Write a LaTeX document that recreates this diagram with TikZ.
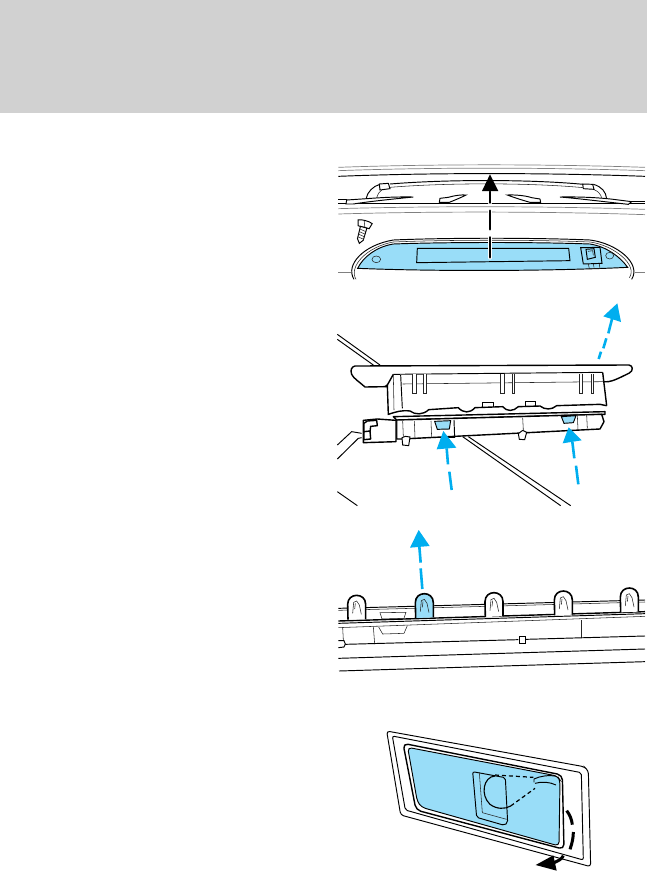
\documentclass[tikz,border=0pt]{standalone}
\usetikzlibrary{calc}
\definecolor{hdr}{HTML}{D1D1D1}
\definecolor{lens}{HTML}{99DDF8}
\definecolor{arrowblue}{HTML}{00AEEF}
\tikzset{
  thinl/.style={line width=0.55pt,black!85},
  medl/.style={line width=0.95pt,black},
  thickl/.style={line width=1.4pt,black,line join=round},
  greyl/.style={line width=0.7pt,black!50},
  blueseg/.style={line width=2.6pt,arrowblue},
  blackseg/.style={line width=2.6pt,black,line cap=round},
  halo/.style={line width=4.6pt,white,line cap=round},
  panel/.style={x=0.33333pt,y=-0.33333pt},
}
\begin{document}
\begin{tikzpicture}[x=1pt,y=-1pt]
\useasboundingbox (0,0) rectangle (647,873);
\fill[hdr] (0,0) rectangle (647,113);

% ---------- panel 1
\begin{scope}[shift={(330pt,-150pt)},panel]
\draw[greyl] (25,52) .. controls (300,42) and (650,42) .. (945,52);
\draw[greyl] (25,62) .. controls (300,52) and (650,52) .. (945,62);
\draw[medl] (25,79) .. controls (300,68) and (650,68) .. (945,79);
\draw[medl] (25,149) -- (50,149);
\draw[medl] (900,153) -- (945,153);
\draw[medl] (25,160) -- (945,160);
\draw[greyl] (25,176) .. controls (300,168) and (650,168) .. (945,178);
\draw[greyl] (25,192) .. controls (300,184) and (650,184) .. (945,194);
% rack
\draw[medl] (108,147) .. controls (112,125) and (130,108) .. (150,103);
\draw[thinl] (140,145) .. controls (142,133) and (148,125) .. (155,120);
\draw[medl] (180,102) .. controls (350,88) and (600,88) .. (760,103);
\draw[thinl] (180,112) .. controls (350,98) and (600,98) .. (760,113);
\draw[medl] (790,103) .. controls (815,110) and (828,125) .. (830,147);
\draw[thinl] (790,118) .. controls (805,123) and (812,133) .. (815,143);
\draw[medl,fill=white] (148,102) -- (175,100) -- (180,116) -- (150,120) -- cycle;
\draw[medl,fill=white] (758,102) -- (788,103) -- (792,118) -- (760,116) -- cycle;
\draw[medl,fill=white] (50,150) -- (110,146) .. controls (160,142) and (210,140) .. (250,141)
  .. controls (200,146) and (120,154) .. (70,162) -- (48,162) -- cycle;
\draw[medl,fill=white] (905,155) -- (850,148) .. controls (800,142) and (740,140) .. (690,141)
  .. controls (750,146) and (830,156) .. (895,163) -- cycle;
\draw[medl,fill=white] (330,145) -- (355,142) .. controls (375,136) and (395,134) .. (408,135)
  .. controls (395,142) and (375,150) .. (358,157) -- (328,157) -- cycle;
\draw[medl,fill=white] (630,147) -- (605,143) .. controls (585,136) and (550,134) .. (532,135)
  .. controls (550,142) and (575,150) .. (600,157) -- (632,157) -- cycle;
% screw
\begin{scope}[shift={(103,224)},rotate=-15]
\draw[medl,fill=white] (-22,-9) .. controls (-12,-14) and (12,-14) .. (22,-9) -- (17,8) -- (-17,8) -- cycle;
\draw[medl,fill=white] (-10,8) -- (-9,46) -- (0,58) -- (9,46) -- (10,8) -- cycle;
\foreach \yy in {16,24,32,40} \draw[thinl] (-10,\yy) -- (10,\yy+3);
\draw[thinl] (-3,-10) -- (3,6);
\end{scope}
% lamp
\draw[medl] (72,388) .. controls (45,345) and (100,285) .. (190,270) .. controls (350,263) and (620,263) .. (780,270) .. controls (860,280) and (935,340) .. (905,388);
\draw[thinl] (78,388) .. controls (55,350) and (110,290) .. (190,276) .. controls (350,269) and (620,269) .. (780,276) .. controls (850,285) and (925,345) .. (898,383);
\draw[greyl] (25,367) -- (62,367);
\draw[greyl] (915,367) -- (945,367);
\draw[medl,fill=lens] (83,355) .. controls (100,320) and (140,290) .. (190,282) .. controls (350,276) and (620,276) .. (780,282) .. controls (830,290) and (870,320) .. (893,352)
  .. controls (650,364) and (300,364) .. (83,355) -- cycle;
\draw[medl] (262,295) -- (716,295) -- (720,332) -- (260,338) -- cycle;
\draw[thinl,fill=lens] (139,328) circle[x radius=13,y radius=10];
\draw[thinl,fill=lens] (839,317) circle[x radius=12,y radius=10];
\draw[medl] (752,293) -- (810,292) -- (816,340) -- (760,342) -- cycle;
\draw[medl,fill=lens] (768,298) -- (792,296) -- (796,322) -- (772,328) -- cycle;
\draw[thinl] (774,304) -- (788,302) -- (790,316);
\draw[thinl] (775,342) -- (778,356) -- (810,356) -- (808,342);
\draw[thinl] (790,342) -- (792,352);
% arrow
\draw[halo] (480,125) -- (480,158);
\draw[halo] (480,182) -- (480,238);
\draw[halo] (480,262) -- (480,322);
\draw[blackseg] (480,125) -- (480,158);
\draw[blackseg] (480,182) -- (480,238);
\draw[blackseg] (480,262) -- (480,322);
\fill[black] (480,73) -- (505,123) -- (456,123) -- cycle;
\end{scope}

% ---------- panel 2
\begin{scope}[shift={(330pt,-295pt)},panel]
\draw[medl] (22,118) -- (150,210);
\draw[medl] (22,133) -- (130,210);
\draw[medl] (415,425) -- (722,632);
\draw[medl] (398,425) -- (692,632);
\draw[medl] (22,590) -- (82,632);
\draw[medl] (22,450) -- (65,410) -- (95,415);
\draw[medl] (22,492) -- (85,430) -- (95,428);
% lamp plate
\draw[thickl,fill=white] (75,213) -- (897,210) .. controls (910,212) and (910,228) .. (898,234) .. controls (870,248) and (850,258) .. (835,260) -- (165,275) -- (105,276) .. controls (90,262) and (70,250) .. (65,238) .. controls (60,225) and (65,215) .. (75,213) -- cycle;
% housing
\fill[white] (190,238) -- (818,232) -- (830,332) -- (824,350) -- (175,360) -- (172,270) -- cycle;
\draw[thickl] (165,275) -- (172,270) -- (175,360);
\draw[thickl] (190,238) -- (172,270);
\draw[medl] (190,238) -- (818,232);
\draw[thickl] (818,232) -- (830,332);
\draw[thinl] (190,240) -- (192,345);
\draw[medl] (212,240) -- (217,340);
\draw[thinl] (218,267) -- (820,260);
\foreach \a/\b in {248/258,280/290,511/522,546/554,749/758,783/791}{
  \draw[thinl,fill=white] (\a,238) -- (\a,296) -- (\b,296) -- (\b,238);
}
% tabs on top of the wave
\draw[medl,fill=white] (457,336) -- (457,322) -- (490,322) -- (490,336);
\draw[medl,fill=white] (585,336) -- (585,320) -- (617,320) -- (617,334);
% wavy edge
\draw[thickl] (175,358) .. controls (200,350) and (215,345) .. (240,348) .. controls (255,360) and (280,360) .. (296,344) -- (385,338) .. controls (400,355) and (420,355) .. (435,338) -- (518,335) .. controls (530,350) and (550,350) .. (565,335) -- (630,333) .. controls (645,345) and (665,345) .. (680,332) -- (810,328) -- (830,332);
\draw[thickl,fill=white] (190,365) -- (825,350) -- (825,358) -- (200,375) -- cycle;
% lower block
\draw[thickl,fill=white] (200,375) -- (815,358) -- (822,380) -- (810,402) -- (375,424) -- (215,432) -- (200,432) -- cycle;
\draw[thinl] (218,378) -- (220,425);
\draw[thinl] (253,378) -- (255,428);
\draw[thinl] (303,378) -- (305,428);
\draw[medl] (372,375) -- (374,428);
\draw[medl] (305,428) -- (374,428);
\draw[thinl] (578,368) -- (580,405);
\draw[thinl] (742,360) -- (744,405);
\draw[thinl] (770,360) -- (772,400);
\draw[medl,fill=lens] (314,379) -- (362,377) -- (358,402) -- (322,403) -- cycle;
\draw[medl,fill=lens] (694,365) -- (738,362) -- (730,383) -- (702,385) -- cycle;
\draw[medl,fill=white] (216,428) -- (218,450) -- (236,452) -- (240,426) -- (226,424) -- cycle;
\draw[medl,fill=white] (565,416) -- (568,433) -- (584,434) -- (590,412) -- (578,406) -- cycle;
% connector
\draw[thickl,fill=white] (100,376) -- (142,372) -- (198,376) -- (198,440) -- (100,443) -- cycle;
\draw[thickl,fill=white] (112,378) -- (140,376) -- (142,392) -- (122,394) -- (120,410) -- (102,412) -- (102,385) -- cycle;
\draw[thickl,fill=white] (102,410) -- (120,408) -- (122,432) -- (102,434) -- cycle;
% arrows
\draw[blueseg] (847,68) -- (835,115);
\draw[blueseg] (829,130) -- (820,160);
\draw[blueseg] (813,170) -- (806,192);
\fill[arrowblue] (862,25) -- (873,81) -- (820,64) -- cycle;
\draw[blueseg] (350,460) -- (354,508);
\draw[blueseg] (358,530) -- (365,585);
\fill[arrowblue] (340,408) -- (379,458) -- (320,463) -- cycle;
\draw[blueseg] (727,440) -- (733,490);
\draw[blueseg] (738,512) -- (745,568);
\fill[arrowblue] (716,397) -- (755,436) -- (698,445) -- cycle;
\end{scope}

% ---------- panel 3
\begin{scope}[shift={(330pt,-525pt)},panel]
\draw[medl] (25,250) -- (945,225);
\draw[thinl] (25,256) -- (945,231);
\draw[thickl] (25,288) -- (945,260);
\draw[medl] (25,295) -- (945,266);
\draw[thinl] (25,308) -- (945,274);
\draw[thinl] (38,308) -- (40,345);
\draw[thinl] (130,305) -- (134,357);
\draw[thinl] (755,286) -- (755,338);
\draw[thinl] (150,263) -- (228,262) -- (222,280) -- (156,282) -- cycle;
\draw[thinl] (146,306) -- (158,327) -- (222,325) -- (232,302);
\draw[medl] (45,358) -- (565,344);
\draw[medl] (588,343) -- (945,333);
\draw[medl,fill=white] (568,334) rectangle (586,355);
\draw[medl,fill=white] (25,347) -- (42,347) -- (46,357) -- (42,366) -- (25,368);
\draw[medl] (25,400) -- (945,372);
\draw[medl] (27,438) -- (945,410);
% clips
\foreach \cx/\cy/\fillc in {80/210/white,283/205/lens,492/202/white,700/197/white,898/188/white}{
  \begin{scope}[shift={(\cx,\cy)}]
  \draw[line width=1.6pt,fill=\fillc,line join=round] (-26,74) -- (-27,28) .. controls (-27,-8) and (27,-8) .. (27,28) -- (27,72);
  \draw[thinl] (-12,55) -- (-9,22) -- (0,18) -- (8,30) -- (14,58);
  \draw[thinl] (-6,42) -- (-4,25);
  \end{scope}
}
\draw[blueseg] (268,65) -- (272,113);
\draw[blueseg] (272,130) -- (277,192);
\fill[arrowblue] (266,15) -- (299,63) -- (240,68) -- cycle;
\end{scope}

% ---------- panel 4
\begin{scope}[shift={(380pt,-720pt)},panel]
\draw[medl,rounded corners=3pt] (20,33) -- (612,140) -- (625,152) -- (632,440) -- (62,285) -- cycle;
\draw[medl,rounded corners=2pt] (37,48) -- (604,158) -- (610,420) -- (76,270) -- cycle;
\draw[thickl,rounded corners=5pt] (69,70) -- (547,165) -- (552,388) -- (108,270) -- cycle;
\draw[medl,rounded corners=4pt,fill=lens] (83,82) -- (532,168) -- (540,180) -- (537,378) -- (125,262) -- (112,245) -- cycle;
% switch
\draw[medl,fill=lens,rounded corners=2pt] (278,155) -- (376,173) -- (383,308) -- (373,316) -- (290,292) -- cycle;
\draw[thinl] (298,158) -- (307,278) -- (380,298);
\draw[line width=1.1pt] (345,168) .. controls (310,170) and (300,225) .. (330,253) .. controls (350,268) and (375,268) .. (392,258);
\draw[dash pattern=on 4pt off 3pt,line width=1.2pt] (345,165) -- (460,172);
\draw[dash pattern=on 4pt off 3pt,line width=1.2pt] (392,258) -- (465,205);
\draw[medl] (462,187) -- (462,177) .. controls (480,168) and (505,165) .. (528,168);
\draw[medl] (465,190) .. controls (485,184) and (510,186) .. (528,195);
% arrow
\draw[line width=3pt] (560,272) .. controls (570,285) and (575,298) .. (577,314);
\draw[line width=3pt] (580,336) .. controls (580,352) and (577,368) .. (570,388);
\draw[line width=3pt] (550,407) .. controls (545,418) and (535,422) .. (522,428);
\fill[black] (467,435) -- (520,406) -- (530,452) -- cycle;
\end{scope}
\end{tikzpicture}
\end{document}
